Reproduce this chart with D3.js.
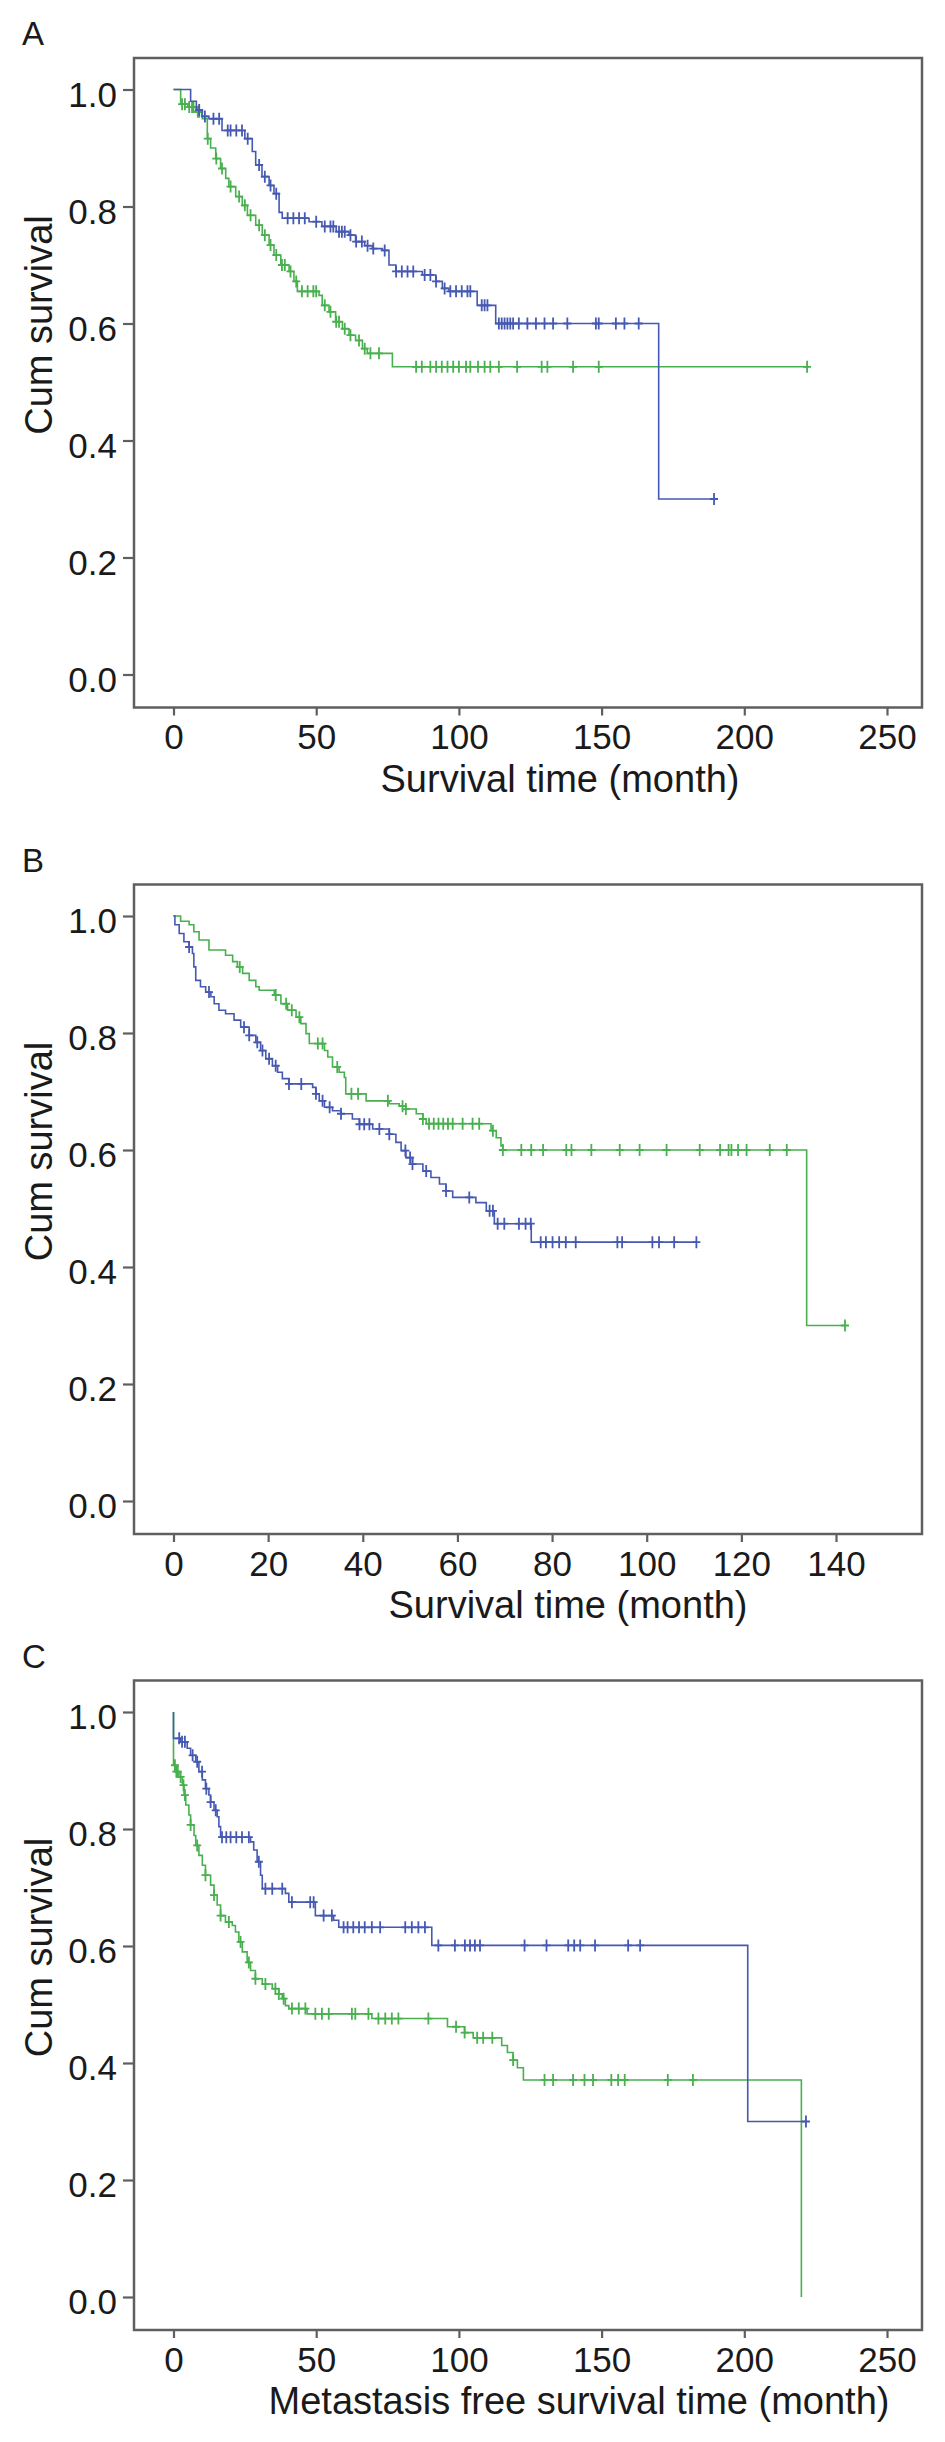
<!DOCTYPE html>
<html>
<head>
<meta charset="utf-8">
<script src="https://cdn.jsdelivr.net/npm/d3@7"></script>
<style>
  html, body { margin: 0; padding: 0; background: #fff; }
  text { font-family: "Liberation Sans", Arial, sans-serif; fill: #1a1a1a; }
</style>
</head>
<body>
<svg id="km_svg"></svg>
<script>
// ---- data (months, cumulative survival) ----
// steps: [time, survival after the drop]; curve starts at (0, 1)

// Panel A
var aBlueSteps = [[0,1],[6,0.98],[8,0.965],[10,0.954],[12.4,0.95],[17,0.93],[25,0.916],[27.6,0.894],[28.8,0.871],[31,0.851],[33.5,0.836],[35.2,0.822],[37,0.79],[38.1,0.78],[47.5,0.774],[52,0.766],[57,0.757],[61.5,0.751],[63.8,0.74],[67,0.733],[69.7,0.728],[73.2,0.725],[75.5,0.70],[77.9,0.689],[87.2,0.683],[91.9,0.672],[94.2,0.66],[96.5,0.655],[106.4,0.631],[112.9,0.60],[170,0.30]];
var aBlueCensor = [9,11,14,16,19,20,22,24,26,30,32,34,36,40,42,44,46,50,53,55,56,58,59,60,62,64,66,68,70,74,78,80,82,84,88,90,92,95,97,99,101,103,104,108,109,110,114,115,116,117,118,119,121,124,127,130,133,138,148,149,155,158,163,189.4];
var aBlueEnd = 189.4;

var aGreenSteps = [[0,1],[2.5,0.975],[5,0.97],[8,0.962],[10.1,0.95],[11.85,0.916],[13,0.9],[14.8,0.882],[16.5,0.865],[18.3,0.848],[19.4,0.834],[21.8,0.817],[24.1,0.802],[25.9,0.785],[28.8,0.768],[31.1,0.751],[33.5,0.734],[35.2,0.717],[37.6,0.70],[40.5,0.689],[42.2,0.672],[43.4,0.655],[51,0.648],[52.1,0.631],[54.5,0.62],[56.8,0.603],[59.2,0.591],[61.5,0.58],[63.8,0.571],[66.2,0.557],[67.9,0.549],[76.7,0.526]];
var aGreenCensor = [3,4,5.5,6.5,7,8.5,9,12,15,17,20,23,25,27,30,32,34,36,38,39,41,43,45,47,49,50,53,55,57,58,60,62,65,67,69,72,85,87,90,92,94,96,98,100,102.5,104,106.7,109,111,114,120.4,129,131,140,149,222];
var aGreenEnd = 222;

// Panel B
var bBlueSteps = [[0,1],[0.3,0.985],[1.2,0.97],[2.2,0.956],[3.3,0.947],[4,0.936],[4.3,0.913],[4.7,0.89],[5.7,0.879],[6.8,0.87],[7.9,0.862],[8.6,0.85],[9.6,0.839],[11,0.833],[12.8,0.822],[14.2,0.81],[16,0.796],[17.4,0.784],[18.4,0.77],[19.5,0.756],[20.9,0.744],[22,0.733],[23,0.722],[24.4,0.713],[29.4,0.707],[30.1,0.696],[30.8,0.684],[31.9,0.673],[33.6,0.667],[35.4,0.662],[37.8,0.653],[39.3,0.644],[42.1,0.636],[45.6,0.627],[47,0.613],[48.1,0.599],[49.1,0.587],[50.5,0.576],[52.7,0.564],[54.4,0.553],[56.2,0.542],[57.6,0.53],[59,0.519],[63.9,0.51],[66.1,0.496],[67.8,0.474],[75.6,0.4425]];
var bBlueCensor = [3.3,7.5,14.9,16,17.7,18.8,20.2,21.6,24.4,27,30.1,31.5,33,35.4,39.3,40.3,41.4,43.5,45.6,49,50,50.5,53.4,57.6,62.5,66.8,67.5,68.5,69.9,73,74.4,75.5,77.6,78.7,80.1,81.5,82.9,85,93.8,94.8,101.2,102.6,105.8,110.5];
var bBlueEnd = 110.5;

var bGreenSteps = [[0,1],[1.5,0.991],[3.3,0.985],[4.3,0.973],[5.4,0.959],[7.5,0.942],[11,0.933],[12.5,0.922],[13.5,0.913],[14.6,0.902],[16,0.89],[17.4,0.879],[18.1,0.873],[21.3,0.865],[22.7,0.85],[24.1,0.839],[25.9,0.827],[26.9,0.816],[28,0.799],[28.7,0.782],[31.9,0.77],[32.6,0.759],[33.6,0.742],[35,0.733],[36.1,0.724],[36.4,0.696],[40.7,0.684],[45.6,0.679],[47.7,0.675],[49.1,0.67],[51.3,0.662],[52.7,0.653],[53.4,0.645],[67.1,0.633],[68.2,0.621],[69.2,0.607],[69.6,0.60],[133.8,0.30]];
var bGreenCensor = [14,21.6,23.8,25,26.6,30.5,31.5,34.6,37.6,39,45.3,48.4,49.1,52.7,54,55,56,57,58,59,61.1,63.2,64.6,67.5,69.6,73.5,75.6,78.1,83,84.1,88.3,94.3,98.5,104.2,111.2,115.5,117.3,117.9,119.3,121.1,126,129.6,141.9];
var bGreenEnd = 141.9;

// Panel C
var cBlueSteps = [[0,0.955],[2.5,0.949],[4.8,0.938],[6,0.926],[7.8,0.915],[8.9,0.898],[10.1,0.884],[11.2,0.869],[12.4,0.858],[13,0.846],[14.2,0.832],[15.3,0.821],[15.9,0.804],[16.5,0.786],[27,0.778],[28.1,0.764],[29.3,0.744],[30.5,0.721],[31.1,0.698],[39.2,0.69],[40.4,0.675],[49.7,0.652],[56.1,0.644],[57.9,0.632],[90.5,0.601],[201.2,0.30]];
var cBlueCensor = [2,3,4,6.7,8.3,10,11.5,13,14.8,17,18.5,20,22,24,26.4,29.9,32.2,34.6,38.1,41.5,47.9,49.1,52.6,55.5,59.6,61,63,65,67,69.5,72.4,81.2,83.5,85.8,88.1,92.8,98.6,102.1,103.9,105.6,107.4,123,130.7,138.3,140.4,142.5,147.7,159.3,163.5,221.6];
var cBlueEnd = 221.6;

var cGreenSteps = [[0,0.909],[0.8,0.898],[1.9,0.889],[3.1,0.875],[3.7,0.858],[4.3,0.841],[5.4,0.824],[6,0.807],[7.2,0.789],[7.8,0.772],[8.9,0.755],[10.1,0.738],[11.2,0.721],[13,0.704],[14.2,0.687],[15.3,0.67],[16.5,0.652],[18.2,0.641],[20.6,0.635],[21.7,0.624],[22.9,0.607],[24.1,0.59],[25.8,0.572],[27,0.558],[28.7,0.544],[31.1,0.535],[34.6,0.527],[36.9,0.518],[38.1,0.51],[39.2,0.498],[40.4,0.493],[46.8,0.484],[69.5,0.476],[96,0.462],[102,0.452],[105,0.443],[115,0.43],[117,0.418],[119,0.405],[120.5,0.392],[122.6,0.371],[220,0]];
var cGreenCensor = [0.5,1,1.5,2.5,3.5,4,6,8.3,11.2,14.2,16.5,19.4,23.5,26.4,28.7,32.2,35.7,36.9,38.6,41.5,43.9,46.2,49.7,52,54.4,62.5,63.7,68.3,71.8,74.2,76.5,78.8,89.3,99,102,106.4,108.5,111.7,119,130,133,140,144,147,153.4,155.8,158.1,173.2,182];
var cGreenEnd = 220;

// axes
var yTicks = [0, 0.2, 0.4, 0.6, 0.8, 1.0];
var xTicksLong = [0, 50, 100, 150, 200, 250];
var xTicksShort = [0, 20, 40, 60, 80, 100, 120, 140];
var panelLetters = ["A", "B", "C"];
var xTitles = ["Survival time (month)", "Survival time (month)", "Metastasis free survival time (month)"];
var yTitle = "Cum survival";

// ---- layout ----
var W = 945, H = 2442;
var colBlue = "#4659b2", colGreen = "#48b04e", colFrame = "#5f5f5f";

var box = { left: 134, right: 922, topPad: 31.5, botPad: 33 };

var panels = [
    { letter: panelLetters[0], top: 58,   xMax: 250, xTicks: xTicksLong,  xTitle: xTitles[0], titleX: 560,
      series: [ { steps: aGreenSteps, censor: aGreenCensor, end: aGreenEnd, color: colGreen },
                { steps: aBlueSteps,  censor: aBlueCensor,  end: aBlueEnd,  color: colBlue } ] },
    { letter: panelLetters[1], top: 884.5, xMax: 140, xTicks: xTicksShort, xTitle: xTitles[1], titleX: 568,
      series: [ { steps: bGreenSteps, censor: bGreenCensor, end: bGreenEnd, color: colGreen },
                { steps: bBlueSteps,  censor: bBlueCensor,  end: bBlueEnd,  color: colBlue } ] },
    { letter: panelLetters[2], top: 1680.5, xMax: 250, xTicks: xTicksLong, xTitle: xTitles[2], titleX: 579,
      series: [ { steps: cGreenSteps, censor: cGreenCensor, end: cGreenEnd, color: colGreen },
                { steps: cBlueSteps,  censor: cBlueCensor,  end: cBlueEnd,  color: colBlue } ] }
];

var plotH = 585;        // pixel span of 0..1
var x0px = 173.5;       // pixel of time 0
var xMaxPx = { 250: 887, 140: 836 };

var base = d3.select('#km_svg').attr('width', W).attr('height', H);
base.append('rect').attr('width', W).attr('height', H).attr('fill', '#fff');

// value of the step function at time t
function surv_at(steps, t) {
    var s = 1;
    for (var i = 0; i < steps.length; i++) {
        if (steps[i][0] <= t) s = steps[i][1];
    }
    return s;
}

function draw_panel(p) {
    var y1px = p.top + box.topPad;
    var y0px = y1px + plotH;
    var boxBottom = y0px + box.botPad;

    var x = d3.scaleLinear().domain([0, p.xMax]).range([x0px, xMaxPx[p.xMax]]);
    var y = d3.scaleLinear().domain([0, 1]).range([y0px, y1px]);

    var g = base.append('g');

    // panel letter
    g.append('text')
        .attr('x', 22).attr('y', p.top - 13)
        .attr('font-size', 33)
        .text(p.letter);

    // curves
    var line = d3.line().x(function(d) { return x(d[0]); }).y(function(d) { return y(d[1]); });
    p.series.forEach(function(s) {
        var pts = [[0, 1]];
        var cur = 1;
        s.steps.forEach(function(st) {
            pts.push([st[0], cur]);
            pts.push([st[0], st[1]]);
            cur = st[1];
        });
        pts.push([s.end, cur]);

        g.append('path')
            .attr('d', line(pts))
            .attr('fill', 'none')
            .attr('stroke', s.color)
            .attr('stroke-width', 1.6);

        // censor marks "+"
        g.selectAll(null)
            .data(s.censor)
            .enter()
            .append('path')
            .attr('d', function(t) {
                var cx = x(t), cy = y(surv_at(s.steps, t));
                return 'M' + (cx - 4) + ',' + cy + 'H' + (cx + 4) +
                       'M' + cx + ',' + (cy - 6) + 'V' + (cy + 6);
            })
            .attr('stroke', s.color)
            .attr('stroke-width', 1.8)
            .attr('fill', 'none');
    });

    // frame
    g.append('rect')
        .attr('x', box.left).attr('y', p.top)
        .attr('width', box.right - box.left)
        .attr('height', boxBottom - p.top)
        .attr('fill', 'none')
        .attr('stroke', colFrame)
        .attr('stroke-width', 2.5);

    // y axis
    var yAxis = g.append('g')
        .attr('transform', 'translate(' + box.left + ',0)')
        .call(d3.axisLeft(y).tickValues(yTicks).tickFormat(d3.format('.1f')).tickSize(11).tickPadding(6));
    yAxis.select('.domain').remove();
    yAxis.selectAll('line').attr('stroke', colFrame).attr('stroke-width', 2.2);
    yAxis.selectAll('text')
        .attr('font-size', 35)
        .attr('font-family', '"Liberation Sans", Arial, sans-serif')
        .attr('fill', '#1a1a1a')
        .attr('dy', '0.48em');

    // x axis
    var xAxis = g.append('g')
        .attr('transform', 'translate(0,' + boxBottom + ')')
        .call(d3.axisBottom(x).tickValues(p.xTicks).tickSize(8).tickPadding(9));
    xAxis.select('.domain').remove();
    xAxis.selectAll('line').attr('stroke', colFrame).attr('stroke-width', 2.2);
    xAxis.selectAll('text')
        .attr('font-size', 35)
        .attr('font-family', '"Liberation Sans", Arial, sans-serif')
        .attr('fill', '#1a1a1a');

    // axis titles
    g.append('text')
        .attr('x', p.titleX).attr('y', boxBottom + 84)
        .attr('text-anchor', 'middle')
        .attr('font-size', 38)
        .text(p.xTitle);

    g.append('text')
        .attr('transform', 'translate(52,' + (p.top + 267) + ') rotate(-90)')
        .attr('text-anchor', 'middle')
        .attr('font-size', 38)
        .text(yTitle);
}

panels.forEach(draw_panel);
</script>
</body>
</html>
